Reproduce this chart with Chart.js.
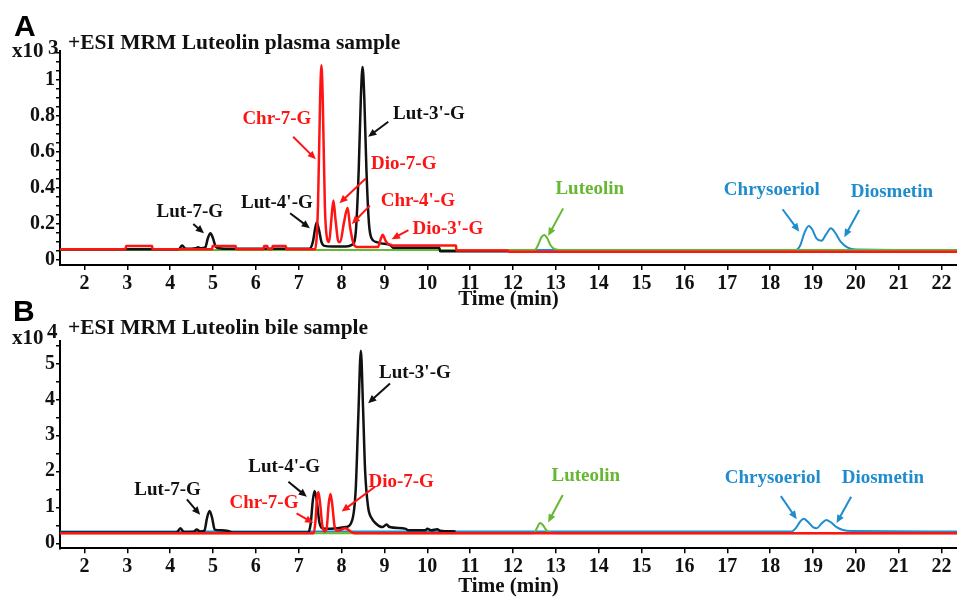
<!DOCTYPE html>
<html><head><meta charset="utf-8">
<script src="https://cdn.jsdelivr.net/npm/chart.js@4/dist/chart.umd.min.js"></script>
<style>
html,body{margin:0;padding:0;background:#fff;overflow:hidden;width:957px;height:597px;position:relative;}
canvas{position:absolute;left:0;}
#ca{top:0;}
#cb{top:290px;}
.t{position:absolute;font-family:"Liberation Serif","Times New Roman",serif;font-weight:bold;color:#111;white-space:nowrap;line-height:1;z-index:5;}
.pl{position:absolute;font-family:"Liberation Sans",Arial,sans-serif;font-weight:bold;font-size:30px;line-height:1;color:#000;z-index:5;}
</style></head>
<body>
<canvas id="ca" width="957" height="310"></canvas>
<canvas id="cb" width="957" height="307"></canvas>
<div class="pl" style="left:14px;top:11px">A</div>
<div class="t" style="left:68px;top:32px;font-size:21.5px">+ESI MRM Luteolin plasma sample</div>
<div class="t" style="left:12px;top:40px;font-size:21px">x10</div>
<div class="t" style="left:48px;top:37px;font-size:21px">3</div>
<div class="pl" style="left:13px;top:296px">B</div>
<div class="t" style="left:68px;top:317px;font-size:21.5px">+ESI MRM Luteolin bile sample</div>
<div class="t" style="left:12px;top:327px;font-size:21px">x10</div>
<div class="t" style="left:47px;top:321px;font-size:21px">4</div>
<script>
// ---- shared x axis (retention time, min) ----
const xMin = 1.43, xMax = 22.36;
const timeTicks = [2,3,4,5,6,7,8,9,10,11,12,13,14,15,16,17,18,19,20,21,22];

// ---- Panel A: plasma, intensity x10^3 ----
const plasmaYTicks = [0, 0.2, 0.4, 0.6, 0.8, 1];
const plasmaRedT = [1.43,2.96,2.97,3.58,3.59,4.98,4.99,5.53,5.54,6.18,6.19,6.27,6.28,6.38,6.39,6.70,6.71,7.38,7.45,7.50,7.53,7.56,7.61,7.67,7.71,7.76,7.81,7.86,7.93,7.97,8.05,8.14,8.20,8.28,8.35,8.85,8.92,8.96,9.02,9.08,9.15,9.19,10.67,10.68,11.88,11.90,22.36];
const plasmaRedV = [0.06,0.06,0.077,0.077,0.06,0.06,0.077,0.077,0.06,0.06,0.077,0.077,0.06,0.06,0.077,0.077,0.06,0.06,0.3,0.9,1.08,0.9,0.3,0.11,0.10,0.22,0.33,0.22,0.10,0.10,0.2,0.29,0.18,0.09,0.072,0.072,0.12,0.14,0.11,0.09,0.085,0.08,0.08,0.052,0.052,0.045,0.045];
const plasmaBlackT = [1.43,4.20,4.28,4.36,4.60,4.65,4.72,4.82,4.88,4.94,5.00,5.06,5.15,5.40,7.25,7.33,7.38,7.42,7.47,7.53,7.60,7.80,8.10,8.25,8.33,8.40,8.45,8.49,8.53,8.58,8.64,8.70,8.80,8.92,9.15,9.20,10.28,10.30,11.88];
const plasmaBlackV = [0.06,0.06,0.08,0.062,0.065,0.07,0.065,0.07,0.12,0.148,0.12,0.075,0.065,0.062,0.062,0.10,0.17,0.207,0.17,0.10,0.078,0.075,0.075,0.085,0.15,0.5,0.9,1.07,0.9,0.5,0.2,0.12,0.10,0.092,0.08,0.068,0.068,0.048,0.048];
const plasmaGreenT = [1.43,12.50,12.58,12.66,12.73,12.80,12.88,12.98,13.20,22.36];
const plasmaGreenV = [0.055,0.055,0.08,0.125,0.138,0.12,0.08,0.06,0.055,0.055];
const plasmaBlueT = [1.43,18.60,18.70,18.80,18.90,18.98,19.08,19.20,19.30,19.42,19.52,19.65,19.80,20.00,22.36];
const plasmaBlueV = [0.055,0.055,0.08,0.15,0.188,0.17,0.12,0.107,0.14,0.176,0.15,0.10,0.07,0.058,0.055];

// ---- Panel B: bile, intensity x10^4 ----
const bileYTicks = [0, 1, 2, 3, 4, 5];
const bileBlackT = [1.43,4.15,4.24,4.32,4.55,4.62,4.70,4.80,4.86,4.92,4.98,5.04,5.20,5.35,5.45,7.22,7.28,7.33,7.37,7.42,7.48,7.55,7.70,7.90,8.10,8.25,8.33,8.39,8.45,8.50,8.55,8.62,8.70,8.80,8.95,9.05,9.12,9.50,9.55,9.95,10.00,10.10,10.23,10.30,10.66];
const bileBlackV = [0.3,0.3,0.42,0.31,0.32,0.38,0.33,0.35,0.7,0.9,0.7,0.38,0.36,0.34,0.3,0.3,0.55,1.2,1.45,1.2,0.6,0.42,0.4,0.42,0.45,0.65,1.5,3.5,5.35,3.8,2.0,1.0,0.7,0.55,0.45,0.52,0.45,0.4,0.36,0.36,0.4,0.36,0.39,0.35,0.33];
const bileRedT = [1.43,7.35,7.39,7.43,7.46,7.50,7.55,7.60,7.65,7.70,7.74,7.78,7.84,7.90,8.00,8.08,8.15,8.25,8.30,22.36];
const bileRedV = [0.28,0.28,0.6,1.3,1.42,1.1,0.5,0.33,0.4,1.1,1.37,1.1,0.45,0.35,0.38,0.42,0.38,0.3,0.28,0.28];
const bileGreenT = [1.43,12.48,12.55,12.63,12.70,12.78,12.88,13.00,22.36];
const bileGreenV = [0.28,0.28,0.4,0.56,0.5,0.36,0.29,0.28,0.28];
const bileBlueT = [1.43,18.50,18.60,18.70,18.78,18.88,19.00,19.09,19.20,19.31,19.42,19.55,19.70,19.90,22.36];
const bileBlueV = [0.33,0.33,0.42,0.6,0.68,0.6,0.45,0.42,0.55,0.65,0.58,0.45,0.37,0.34,0.33];

// ---- peak labels (text at tx,ty; arrow from a1 to a2, data units) ----
const RED = '#ff1414', BLACK = '#111111', GREEN = '#66b832', BLUE = '#1e8ccd';
const plasmaLabels = [
  {text:'Lut-7-G', color:BLACK, tx:4.46, ty:0.271, a1:[4.54,0.199], a2:[4.79,0.148]},
  {text:"Lut-4'-G", color:BLACK, tx:6.49, ty:0.323, a1:[6.80,0.259], a2:[7.26,0.176]},
  {text:'Chr-7-G', color:RED, tx:6.49, ty:0.785, a1:[6.87,0.683], a2:[7.40,0.558]},
  {text:"Lut-3'-G", color:BLACK, tx:10.04, ty:0.813, a1:[9.09,0.766], a2:[8.62,0.683]},
  {text:'Dio-7-G', color:RED, tx:9.45, ty:0.536, a1:[8.57,0.453], a2:[7.95,0.314]},
  {text:"Chr-4'-G", color:RED, tx:9.78, ty:0.332, a1:[8.66,0.301], a2:[8.24,0.199]},
  {text:"Dio-3'-G", color:RED, tx:10.48, ty:0.179, a1:[9.56,0.166], a2:[9.17,0.115]},
  {text:'Luteolin', color:GREEN, tx:13.79, ty:0.397, a1:[13.17,0.286], a2:[12.82,0.133]},
  {text:'Chrysoeriol', color:BLUE, tx:18.04, ty:0.393, a1:[18.29,0.281], a2:[18.68,0.157]},
  {text:'Diosmetin', color:BLUE, tx:20.84, ty:0.383, a1:[20.08,0.277], a2:[19.73,0.126]}
];
const bileLabels = [
  {text:'Lut-7-G', color:BLACK, tx:3.94, ty:1.5, a1:[4.39,1.22], a2:[4.70,0.79]},
  {text:"Lut-4'-G", color:BLACK, tx:6.66, ty:2.15, a1:[6.76,1.71], a2:[7.19,1.29]},
  {text:'Chr-7-G', color:RED, tx:6.19, ty:1.14, a1:[6.95,0.83], a2:[7.34,0.56]},
  {text:'Dio-7-G', color:RED, tx:9.39, ty:1.74, a1:[8.78,1.57], a2:[8.0,0.88]},
  {text:"Lut-3'-G", color:BLACK, tx:9.71, ty:4.77, a1:[9.13,4.44], a2:[8.62,3.89]},
  {text:'Luteolin', color:GREEN, tx:13.70, ty:1.90, a1:[13.16,1.34], a2:[12.82,0.58]},
  {text:'Chrysoeriol', color:BLUE, tx:18.06, ty:1.85, a1:[18.25,1.31], a2:[18.62,0.67]},
  {text:'Diosmetin', color:BLUE, tx:20.63, ty:1.85, a1:[19.89,1.29], a2:[19.55,0.56]}
];

const annotPlugin = {
  id: 'annot',
  afterDatasetsDraw(chart, args, opts) {
    const ctx = chart.ctx, xs = chart.scales.x, ys = chart.scales.y;
    ctx.save();
    (opts.items || []).forEach(a => {
      ctx.fillStyle = a.color; ctx.strokeStyle = a.color;
      ctx.font = 'bold 19px "Liberation Serif", serif';
      ctx.textAlign = 'center'; ctx.textBaseline = 'middle';
      ctx.fillText(a.text, xs.getPixelForValue(a.tx), ys.getPixelForValue(a.ty) + 1);
      const x1 = xs.getPixelForValue(a.a1[0]), y1 = ys.getPixelForValue(a.a1[1]);
      const x2 = xs.getPixelForValue(a.a2[0]), y2 = ys.getPixelForValue(a.a2[1]);
      const ang = Math.atan2(y2 - y1, x2 - x1), hl = 9;
      ctx.lineWidth = 2;
      ctx.beginPath(); ctx.moveTo(x1, y1);
      ctx.lineTo(x2 - hl * 0.7 * Math.cos(ang), y2 - hl * 0.7 * Math.sin(ang)); ctx.stroke();
      ctx.beginPath(); ctx.moveTo(x2, y2);
      ctx.lineTo(x2 - hl * Math.cos(ang - 0.42), y2 - hl * Math.sin(ang - 0.42));
      ctx.lineTo(x2 - hl * Math.cos(ang + 0.42), y2 - hl * Math.sin(ang + 0.42));
      ctx.closePath(); ctx.fill();
    });
    ctx.restore();
  }
};

const serif = (size) => ({family: '"Liberation Serif", serif', weight: 'bold', size: size, lineHeight: 1});

function panel(canvasId, traces, cfg) {
  const allY = [];
  for (let v = 0; v <= cfg.yTop + 1e-9; v += cfg.minor) allY.push(Math.round(v * 1000) / 1000);
  return new Chart(document.getElementById(canvasId), {
    type: 'line',
    data: {
      datasets: traces.map(tr => ({
        data: tr.t.map((t, i) => ({x: t, y: tr.v[i]})),
        borderColor: tr.color, borderWidth: tr.w, pointRadius: 0, fill: false,
        cubicInterpolationMode: 'monotone'
      }))
    },
    options: {
      responsive: false, animation: false, devicePixelRatio: 1,
      layout: {padding: {top: cfg.padTop, left: 0, right: 0, bottom: 0}},
      plugins: {legend: {display: false}, tooltip: {enabled: false}, annot: {items: cfg.labels}},
      scales: {
        x: {
          type: 'linear', min: xMin, max: xMax,
          afterBuildTicks: s => { s.ticks = timeTicks.map(v => ({value: v})); },
          afterFit: s => { s.height = cfg.xAxisH; },
          ticks: {autoSkip: false, maxRotation: 0, padding: 4, color: '#111', font: serif(20)},
          grid: {drawOnChartArea: false, tickLength: 5, color: '#000', lineWidth: 1.5},
          border: {color: '#000', width: 2},
          title: {display: true, text: 'Time (min)', color: '#111', font: serif(21), padding: 0}
        },
        y: {
          min: cfg.yMin, max: cfg.yMax,
          afterBuildTicks: s => { s.ticks = allY.map(v => ({value: v})); },
          afterFit: s => { s.width = 60; },
          ticks: {
            autoSkip: false, padding: 1, color: '#111', font: serif(20),
            callback: v => cfg.majors.some(m => Math.abs(m - v) < 1e-6) ? String(+v.toFixed(2)) : ''
          },
          grid: {drawOnChartArea: false, tickLength: 4, color: '#000', lineWidth: 1.5},
          border: {color: '#000', width: 2}
        }
      }
    },
    plugins: [annotPlugin]
  });
}

panel('ca', [
  {t: plasmaRedT, v: plasmaRedV, color: RED, w: 2.5},
  {t: plasmaBlackT, v: plasmaBlackV, color: BLACK, w: 2.5},
  {t: plasmaGreenT, v: plasmaGreenV, color: GREEN, w: 2},
  {t: plasmaBlueT, v: plasmaBlueV, color: BLUE, w: 2}
], {padTop: 50.7, xAxisH: 45, yMin: -0.028, yMax: 1.16, yTop: 1.15, minor: 0.05, majors: plasmaYTicks, labels: plasmaLabels});

panel('cb', [
  {t: bileRedT, v: bileRedV, color: RED, w: 2.5},
  {t: bileBlackT, v: bileBlackV, color: BLACK, w: 2.5},
  {t: bileGreenT, v: bileGreenV, color: GREEN, w: 2},
  {t: bileBlueT, v: bileBlueV, color: BLUE, w: 2}
], {padTop: 50.7, xAxisH: 48.7, yMin: -0.14, yMax: 5.63, yTop: 5.5, minor: 0.5, majors: bileYTicks, labels: bileLabels});
</script>
</body></html>
